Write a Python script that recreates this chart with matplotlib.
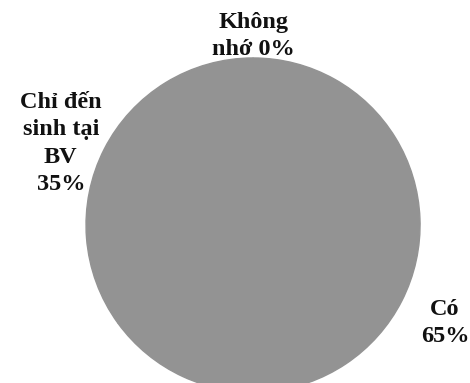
import numpy as np
import matplotlib.pyplot as plt

# --------------------------------- #

labels = ['Không\nnhớ', 'Chỉ đến\nsinh tại\nBV', 'Có']
values = [0, 35, 65]

# label placement: radial distance and angle nudge (degrees)
label_dist = [1.13, 1.25, 1.29]
label_turn = [0, 4.0, 0]

# --------------------------------- #

plt.rcParams['font.family'] = ['Liberation Serif', 'DejaVu Serif']

fig = plt.figure(figsize=(4.70, 3.83), dpi=100)
ax = fig.add_axes([0, 0, 1, 1])

grey = '#939393'
wedges, _ = ax.pie(values, startangle=90, counterclock=True,
                   colors=[grey] * len(values),
                   wedgeprops=dict(linewidth=1.0, edgecolor=grey))

total = float(sum(values))
for w, lab, v, d, t in zip(wedges, labels, values, label_dist, label_turn):
    ang = np.deg2rad((w.theta1 + w.theta2) / 2 + t)
    pct = '{:.0f}%'.format(100 * v / total)
    if v == 0:
        txt = lab + ' ' + pct
    else:
        txt = lab + '\n' + pct
    ax.text(d * np.cos(ang), d * np.sin(ang), txt,
            ha='center', va='center', fontsize=17.5, fontweight='bold',
            linespacing=1.4, color='#111111')

ax.set_xlim(-1.515, 1.299)
ax.set_ylim(-0.946, 1.347)
ax.set_aspect('auto')
ax.axis('off')

fig.savefig('out.png', dpi=100)
